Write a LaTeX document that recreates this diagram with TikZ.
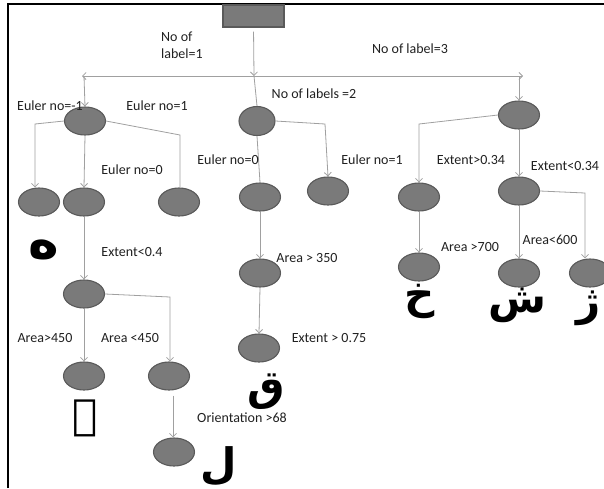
\documentclass[tikz,border=0pt]{standalone}
\usepackage{fontspec}
\setmainfont{Carlito}
\newfontfamily\arabicfont[Script=Arabic]{DejaVu Sans}
\TeXXeTstate=1
\usetikzlibrary{arrows.meta,shapes.geometric}
\definecolor{nodefill}{HTML}{7A7A7A}
\definecolor{nodeline}{HTML}{5A5A5A}
\definecolor{edgecol}{HTML}{A0A0A0}
\definecolor{txtcol}{HTML}{202020}
\tikzset{
  x=1pt,y=-1pt,
  oval/.style={ellipse,draw=nodeline,fill=nodefill,line width=1.1pt,minimum width=41pt,minimum height=28pt,inner sep=0pt},
  rootbox/.style={rectangle,draw=nodeline,fill=nodefill,line width=1.1pt,minimum width=61pt,minimum height=22pt,inner sep=0pt},
  edge/.style={draw=edgecol,line width=0.8pt},
  arr/.style={edge,-{Straight Barb[length=3.5pt,width=7pt]}},
  lbl/.style={text=txtcol,font=\fontsize{14}{17}\selectfont,inner sep=0pt},
  letter/.style={text=black,font=\arabicfont\bfseries\fontsize{42}{42}\selectfont,inner sep=0pt}
}
\begin{document}
\begin{tikzpicture}
\useasboundingbox (0,0) rectangle (604,488);
% frame
\draw[line width=2.5pt] (8,488) -- (8,4) -- (604,4);
% nodes
\node[rootbox] (root) at (253.5,16) {};
\coordinate (hub) at (254,76);
\coordinate (hl) at (82,76);
\coordinate (hr) at (523,76);
\coordinate (aL) at (84,76);
\coordinate (aR) at (519,76);
\node[oval] (L1a) at (85,121) {};
\node[oval,minimum width=36pt,minimum height=29pt] (L1b) at (257,121) {};
\node[oval] (L1c) at (519,115) {};
\node[oval] (L2a) at (39,202) {};
\node[oval] (L2b) at (84,202) {};
\node[oval] (L2c) at (179,202) {};
\node[oval] (L2d) at (260,197) {};
\node[oval] (L2e) at (328,191) {};
\node[oval] (L2f) at (419,197) {};
\node[oval] (L2g) at (519,191) {};
\node[oval] (L3a) at (84,294) {};
\node[oval] (L3b) at (260,273) {};
\node[oval] (L3f) at (419,267) {};
\node[oval] (L3g) at (519,273) {};
\node[oval] (L3h) at (590,273) {};
\node[oval] (L4a) at (84,376) {};
\node[oval] (L4c) at (169,376) {};
\node[oval] (L4b) at (259,348) {};
\node[oval] (L5) at (174,452) {};
% bend coordinates
\coordinate (b1) at (35,124);
\coordinate (b2) at (180,135);
\coordinate (b3) at (325,124);
\coordinate (b4) at (419,124);
\coordinate (b5) at (585,193);
\coordinate (b6) at (170,297);
% connectors
\draw[arr,shorten <=4pt] (root.south) -- (hub);
\draw[arr] (hub) -- (hl);
\draw[arr] (hub) -- (hr);
\draw[arr] (aL) -- (L1a.north);
\draw[edge] (hub) -- (L1b.north);
\draw[arr] (aR) -- (L1c.north);
\draw[arr] (L1a.west) -- (b1) -- (b1 |- L2a.north);
\draw[arr] (L1a.south) -- (L2b.north);
\draw[edge] (L1a.east) -- (b2) -- (b2 |- L2c.north);
\draw[edge] (L1b.south) -- (L2d.north);
\draw[arr] (L1b.east) -- (b3) -- (L2e.north);
\draw[arr] (L1c.west) -- (b4) -- (L2f.north);
\draw[arr] (L1c.south) -- (L2g.north);
\draw[arr] (L2b.south) -- (L3a.north);
\draw[arr] (L2d.south) -- (L3b.north);
\draw[arr] (L3b.south) -- (L4b.north);
\draw[arr] (L2f.south) -- (L3f.north);
\draw[arr] (L2g.south) -- (L3g.north);
\draw[arr] (L2g.east) -- (b5) -- (b5 |- L3h.north);
\draw[arr] (L3a.south) -- (L4a.north);
\draw[arr] (L3a.east) -- (b6) -- (b6 |- L4c.north);
\draw[arr,shorten <=5pt] ([xshift=4pt]L4c.south) -- ([xshift=-1pt]L5.north);
% labels
\node[lbl,anchor=west,align=left] (t1) at (161,45) {No of\\label=1};
\node[lbl] (t2) at (410,49) {No of label=3};
\node[lbl] (t3) at (50,106) {Euler no=-1};
\node[lbl] (t4) at (157,106) {Euler no=1};
\node[lbl] (t5) at (314,94) {No of labels =2};
\node[lbl] (t6) at (132,170) {Euler no=0};
\node[lbl] (t7) at (228,160) {Euler no=0};
\node[lbl] (t8) at (372,160) {Euler no=1};
\node[lbl] (t9) at (471,160) {Extent>0.34};
\node[lbl] (t10) at (565,166) {Extent<0.34};
\node[lbl] (t11) at (132,252) {Extent<0.4};
\node[lbl] (t12) at (307,258) {Area > 350};
\node[lbl] (t13) at (470,247) {Area >700};
\node[lbl] (t14) at (550,240) {Area<600};
\node[lbl] (t15) at (45,338) {Area>450};
\node[lbl] (t16) at (130,338) {Area <450};
\node[lbl] (t17) at (329,338) {Extent > 0.75};
\node[lbl] (t18) at (242,418) {Orientation >68};
% letters
\node[letter,font=\arabicfont\bfseries\fontsize{52}{52}\selectfont] (c1) at (44,250) {\beginR ه\endR};
\node[letter] (c2) at (85,418) {\beginR ے\endR};
\node[letter] (c3) at (219,466) {\beginR ل\endR};
\node[letter] (c4) at (266,392) {\beginR ق\endR};
\node[letter] (c5) at (420,301) {\beginR خ\endR};
\node[letter] (c6) at (517,305) {\beginR ش\endR};
\node[letter] (c7) at (589,308) {\beginR ژ\endR};
\end{tikzpicture}
\end{document}
